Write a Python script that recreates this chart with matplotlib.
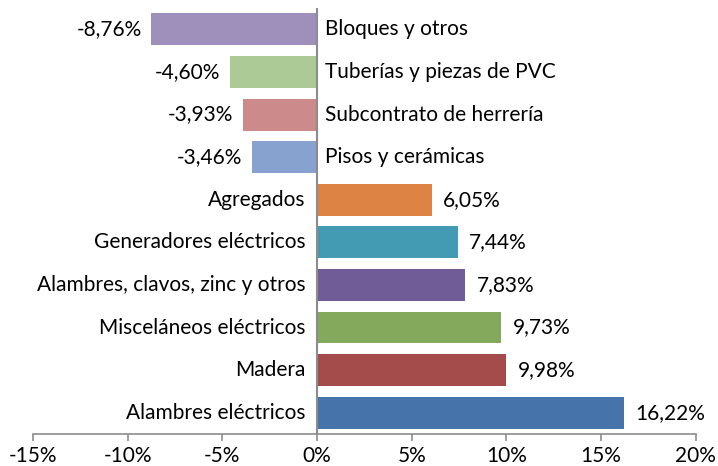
import matplotlib
matplotlib.use("Agg")
import matplotlib.pyplot as plt
from matplotlib.ticker import FixedLocator

categories = ["Alambres eléctricos", "Madera", "Misceláneos eléctricos",
              "Alambres, clavos, zinc y otros", "Generadores eléctricos", "Agregados",
              "Pisos y cerámicas", "Subcontrato de herrería", "Tuberías y piezas de PVC",
              "Bloques y otros"]
values = [16.22, 9.98, 9.73, 7.83, 7.44, 6.05, -3.46, -3.93, -4.60, -8.76]
colors = ["#4674AA", "#A44B4B", "#84A85C", "#705D98", "#439AB3", "#DD8444",
          "#87A2CF", "#CC8A8A", "#ABCA96", "#9E90BB"]
xticks = [-15, -10, -5, 0, 5, 10, 15, 20]
xtick_labels = ["-15%", "-10%", "-5%", "0%", "5%", "10%", "15%", "20%"]

plt.rcParams['font.family'] = ['Lato', 'DejaVu Sans']
FS = 15

fig = plt.figure(figsize=(7.18, 4.66), dpi=100)
ax = fig.add_axes([0.046, 0.0687, 0.923, 0.914])

y = list(range(len(categories)))
ax.barh(y, values, height=0.75, color=colors, zorder=2)

ax.set_xlim(-15, 20)
ax.set_ylim(-0.5, len(categories) - 0.5)
ax.xaxis.set_major_locator(FixedLocator(xticks))
ax.set_xticklabels(xtick_labels, fontsize=FS)
ax.set_yticks([])

for s in ["top", "right", "left"]:
    ax.spines[s].set_visible(False)
ax.spines["bottom"].set_color("#8C8C8C")
ax.spines["bottom"].set_linewidth(1.2)
ax.axvline(0, color="#8C8C8C", linewidth=1.5, zorder=3)
ax.tick_params(axis="x", direction="out", length=5, width=1.2, color="#8C8C8C", pad=4)

for yi, (cat, v) in enumerate(zip(categories, values)):
    lbl = f"{v:.2f}%".replace(".", ",")
    if v >= 0:
        ax.text(-0.6, yi, cat, ha="right", va="center", fontsize=FS)
        ax.text(v + 0.6, yi, lbl, ha="left", va="center", fontsize=FS)
    else:
        ax.text(0.4, yi, cat, ha="left", va="center", fontsize=FS)
        ax.text(v - 0.5, yi, lbl, ha="right", va="center", fontsize=FS)

fig.savefig("out.png", dpi=100)
